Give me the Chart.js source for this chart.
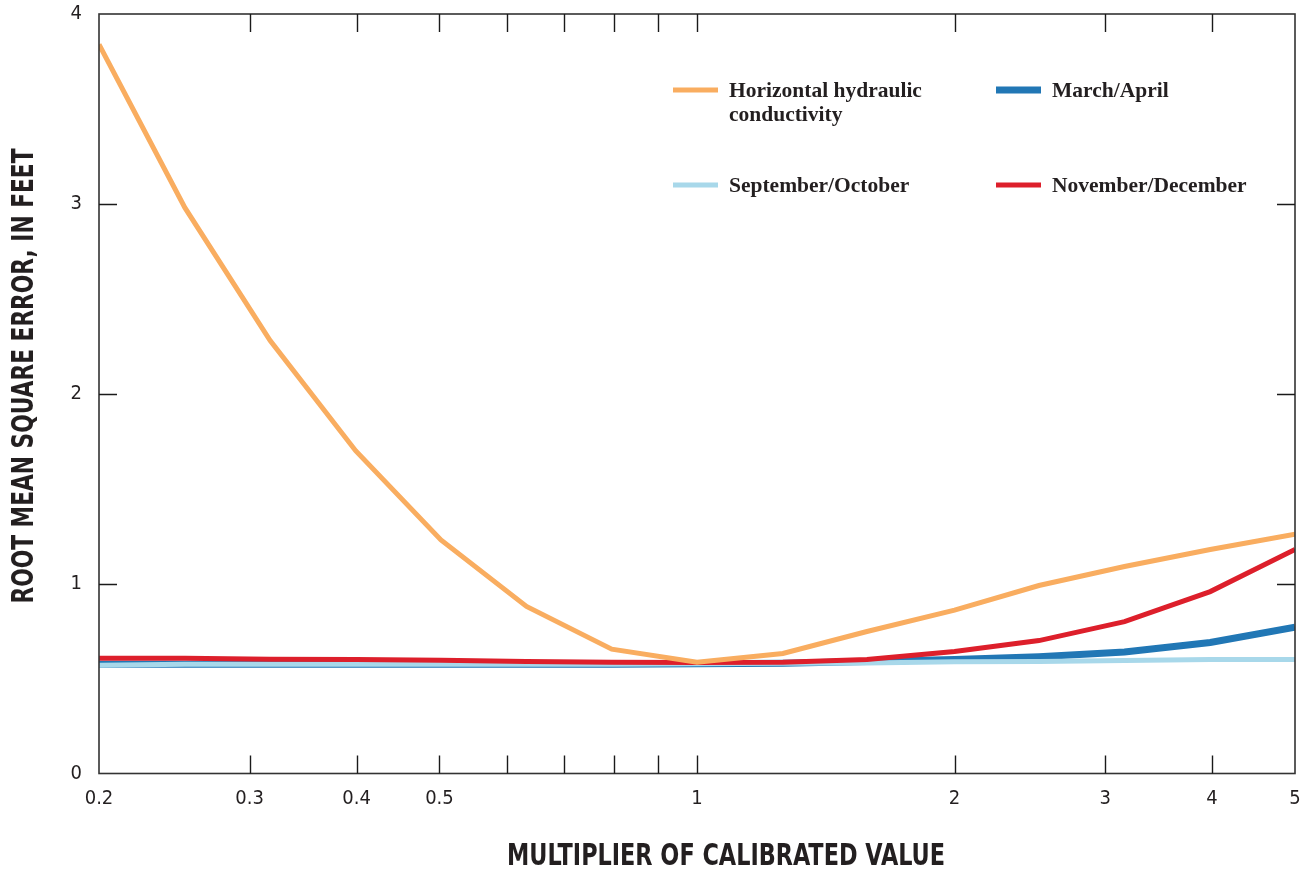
<!DOCTYPE html>
<html>
<head>
<meta charset="utf-8">
<script src="https://cdn.jsdelivr.net/npm/chart.js@4.4.1/dist/chart.umd.min.js"></script>
<style>
  html, body { margin: 0; padding: 0; background: #fff; }
  #rmse { display: block; }
</style>
</head>
<body>
<canvas id="rmse" width="1301" height="871"></canvas>
<script>
// multiplier applied to the calibrated parameter value
const multipliers = [0.2, 0.252, 0.317, 0.399, 0.502, 0.632, 0.795, 1, 1.26, 1.58, 2, 2.51, 3.16, 3.98, 5]

// root mean square error, in feet
const hydraulic = [3.84, 2.98, 2.28, 1.7, 1.23, 0.88, 0.655, 0.586, 0.632, 0.748, 0.86, 0.99, 1.09, 1.18, 1.26]
const marchApril = [0.575, 0.575, 0.575, 0.575, 0.575, 0.575, 0.576, 0.578, 0.58, 0.59, 0.6, 0.615, 0.64, 0.69, 0.77]
const septOct = [0.57, 0.575, 0.575, 0.575, 0.575, 0.575, 0.576, 0.578, 0.58, 0.582, 0.588, 0.59, 0.595, 0.6, 0.6]
const novDec = [0.607, 0.607, 0.602, 0.6, 0.596, 0.59, 0.586, 0.584, 0.586, 0.6, 0.642, 0.7, 0.8, 0.958, 1.18]

const seriesNames = [
  'Horizontal hydraulic conductivity',
  'March/April',
  'September/October',
  'November/December',
]

const xTickValues = [0.2, 0.3, 0.4, 0.5, 0.6, 0.7, 0.8, 0.9, 1, 2, 3, 4, 5]
const xTickLabels = ['0.2', '0.3', '0.4', '0.5', '', '', '', '', '1', '2', '3', '4', '5']
const yTickValues = [0, 1, 2, 3, 4]

const xTitle = 'MULTIPLIER OF CALIBRATED VALUE'
const yTitle = 'ROOT MEAN SQUARE ERROR, IN FEET'

const narrow = "'Liberation Sans Narrow', 'DejaVu Sans Condensed', 'Roboto', sans-serif"
const ink = '#231F20'

function toPoints(values) {
  return values.map((v, i) => ({ x: multipliers[i], y: v }))
}

// box round the plot with short ticks pointing inward on all four sides
const frameTicks = {
  id: 'frameTicks',
  afterDraw(chart) {
    const { ctx, chartArea: { left, top, right, bottom } } = chart
    const xs = chart.scales.x
    const ys = chart.scales.y
    const len = 18
    ctx.save()
    ctx.strokeStyle = '#333'
    ctx.lineWidth = 1.6
    ctx.strokeRect(left, top, right - left, bottom - top)
    ctx.lineWidth = 1.4
    ctx.strokeStyle = '#1a1a1a'
    ctx.beginPath()
    xTickValues.forEach((v) => {
      if (v <= xs.min || v >= xs.max) return
      const px = Math.round(xs.getPixelForValue(v)) + 0.5
      ctx.moveTo(px, bottom)
      ctx.lineTo(px, bottom - len)
      ctx.moveTo(px, top)
      ctx.lineTo(px, top + len)
    })
    yTickValues.forEach((v) => {
      if (v <= ys.min || v >= ys.max) return
      const py = Math.round(ys.getPixelForValue(v)) + 0.5
      ctx.moveTo(left, py)
      ctx.lineTo(left + len, py)
      ctx.moveTo(right, py)
      ctx.lineTo(right - len, py)
    })
    ctx.stroke()
    ctx.restore()
  },
}

// two-by-two key in the upper right of the plot
const seriesKey = {
  id: 'seriesKey',
  afterDraw(chart) {
    const { ctx } = chart
    const cols = [673, 996]
    const rows = [90, 185]
    const sample = 45
    const gap = 11
    const lineHeight = 24
    ctx.save()
    ctx.font = "bold 21.5px 'Liberation Serif', 'DejaVu Serif', serif"
    ctx.fillStyle = ink
    ctx.textBaseline = 'middle'
    const order = [0, 1, 2, 3]
    order.forEach((dsIndex, k) => {
      const ds = chart.data.datasets[dsIndex]
      const x = cols[k % 2]
      const y = rows[Math.floor(k / 2)]
      ctx.strokeStyle = ds.borderColor
      ctx.lineWidth = ds.borderWidth
      ctx.lineCap = 'butt'
      ctx.beginPath()
      ctx.moveTo(x, y)
      ctx.lineTo(x + sample, y)
      ctx.stroke()
      // wrap long names onto a second line
      const lines = []
      let cur = ''
      ds.label.split(' ').forEach((w) => {
        const test = cur ? cur + ' ' + w : w
        if (cur && ctx.measureText(test).width > 240) {
          lines.push(cur)
          cur = w
        } else {
          cur = test
        }
      })
      lines.push(cur)
      lines.forEach((t, j) => {
        ctx.fillText(t, x + sample + gap, y + 1 + j * lineHeight)
      })
    })
    ctx.restore()
  },
}

// condensed bold axis titles
const axisTitles = {
  id: 'axisTitles',
  afterDraw(chart) {
    const { ctx } = chart
    ctx.save()
    ctx.fillStyle = ink
    ctx.font = 'bold 30px ' + narrow
    ctx.textAlign = 'center'
    ctx.textBaseline = 'middle'

    let w = ctx.measureText(xTitle).width
    ctx.save()
    ctx.translate(726, 857)
    ctx.scale(438 / w, 1)
    ctx.fillText(xTitle, 0, 0)
    ctx.restore()

    w = ctx.measureText(yTitle).width
    ctx.save()
    ctx.translate(25, 376)
    ctx.rotate(-Math.PI / 2)
    ctx.scale(455 / w, 1)
    ctx.fillText(yTitle, 0, 0)
    ctx.restore()
    ctx.restore()
  },
}

const line = (label, data, color, width, order) => ({
  label,
  data: toPoints(data),
  borderColor: color,
  backgroundColor: color,
  borderWidth: width,
  pointRadius: 0,
  tension: 0,
  fill: false,
  order,
})

const ctx = document.getElementById('rmse').getContext('2d')
// eslint-disable-next-line no-unused-vars
const rmseChart = new Chart(ctx, {
  type: 'line',
  data: {
    datasets: [
      line(seriesNames[0], hydraulic, '#F9AD60', 5, 0),
      line(seriesNames[1], marchApril, '#2177B5', 7, 3),
      line(seriesNames[2], septOct, '#A8D8EA', 5, 2),
      line(seriesNames[3], novDec, '#DD1F2B', 5, 1),
    ],
  },
  options: {
    responsive: false,
    animation: false,
    layout: {
      padding: { top: 14, right: 6, left: 0, bottom: 0 },
    },
    scales: {
      x: {
        type: 'logarithmic',
        min: 0.2,
        max: 5,
        grid: { display: false, drawTicks: false },
        border: { display: false },
        afterBuildTicks: (scale) => {
          scale.ticks = xTickValues.map((v) => ({ value: v }))
        },
        afterFit: (scale) => {
          scale.height = 871 - 773.5
          scale.paddingLeft = 0
          scale.paddingRight = 0
        },
        ticks: {
          autoSkip: false,
          maxRotation: 0,
          padding: 13,
          color: ink,
          font: { family: narrow, size: 20 },
          callback: (value) => {
            const i = xTickValues.indexOf(value)
            return i === -1 ? '' : xTickLabels[i]
          },
        },
      },
      y: {
        min: 0,
        max: 4,
        grid: { display: false, drawTicks: false },
        border: { display: false },
        afterBuildTicks: (scale) => {
          scale.ticks = yTickValues.map((v) => ({ value: v }))
        },
        afterFit: (scale) => {
          scale.width = 99
          scale.paddingTop = 0
          scale.paddingBottom = 0
        },
        ticks: {
          padding: 17,
          color: ink,
          font: { family: narrow, size: 20 },
          callback: (value) => String(value),
        },
      },
    },
    plugins: {
      legend: { display: false },
      tooltip: { enabled: false },
    },
  },
  plugins: [frameTicks, seriesKey, axisTitles],
})
</script>
</body>
</html>
